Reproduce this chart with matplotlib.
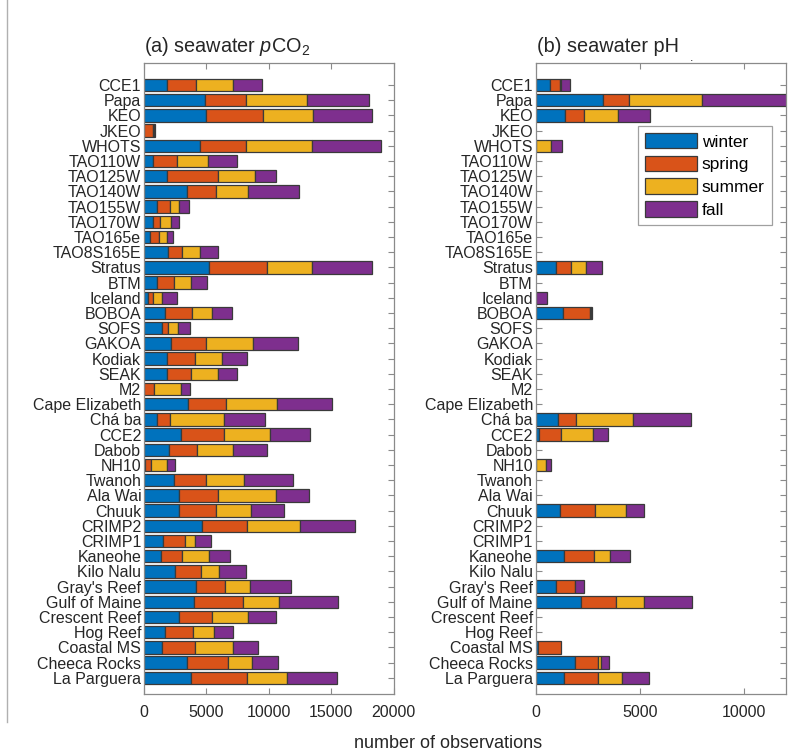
import matplotlib
matplotlib.use("Agg")
import matplotlib.pyplot as plt
import numpy as np

plt.rcParams['font.family'] = ['Liberation Sans', 'DejaVu Sans']
plt.rcParams['mathtext.fontset'] = 'custom'
plt.rcParams['mathtext.rm'] = 'Liberation Sans'
plt.rcParams['mathtext.it'] = 'Liberation Sans:italic'

stations = ["CCE1", "Papa", "KEO", "JKEO", "WHOTS", "TAO110W", "TAO125W", "TAO140W",
            "TAO155W", "TAO170W", "TAO165e", "TAO8S165E", "Stratus", "BTM", "Iceland",
            "BOBOA", "SOFS", "GAKOA", "Kodiak", "SEAK", "M2", "Cape Elizabeth", "Chá ba",
            "CCE2", "Dabob", "NH10", "Twanoh", "Ala Wai", "Chuuk", "CRIMP2", "CRIMP1",
            "Kaneohe", "Kilo Nalu", "Gray's Reef", "Gulf of Maine", "Crescent Reef",
            "Hog Reef", "Coastal MS", "Cheeca Rocks", "La Parguera"]

seasons = ["winter", "spring", "summer", "fall"]
colors = ["#0072BD", "#D95319", "#EDB120", "#7E2F8E"]

# pCO2 observations per season
pco2_winter = [1880, 4900, 4980, 30, 4490, 720, 1880, 3480, 1020, 700, 480, 1960, 5250, 1040, 320,
               1690, 1420, 2170, 1820, 1820, 0, 3530, 1040, 3000, 2040, 50, 2380, 2810, 2840, 4610,
               1530, 1400, 2460, 4170, 4010, 2810, 1690, 1420, 3430, 3800]
pco2_spring = [2270, 3290, 4520, 680, 3650, 1960, 4060, 2330, 1100, 620, 760, 1120, 4620, 1400, 400,
               2160, 540, 2840, 2250, 1980, 800, 3030, 1080, 3450, 2190, 540, 2630, 3160, 2920, 3660,
               1760, 1680, 2070, 2360, 3940, 2680, 2220, 2630, 3340, 4470]
pco2_summer = [2950, 4890, 4060, 120, 5340, 2460, 2920, 2540, 670, 820, 580, 1410, 3590, 1360, 760,
               1640, 770, 3710, 2220, 2140, 2200, 4120, 4300, 3640, 2870, 1290, 3020, 4580, 2800, 4250,
               760, 2110, 1470, 1980, 2890, 2810, 1710, 3050, 1850, 3210]
pco2_fall = [2350, 4980, 4740, 80, 5490, 2320, 1710, 4040, 850, 650, 540, 1480, 4790, 1290, 1200,
             1530, 990, 3590, 1980, 1480, 720, 4360, 3270, 3210, 2720, 640, 3880, 2670, 2680, 4390,
             1300, 1690, 2160, 3260, 4680, 2250, 1480, 2050, 2140, 3990]

# pH observations per season
ph_winter = [700, 3210, 1390, 0, 0, 0, 0, 0, 0, 0, 0, 0, 960, 0, 20,
             1330, 0, 0, 0, 0, 0, 0, 1090, 140, 0, 0, 0, 0, 1150, 0,
             0, 1370, 0, 980, 2160, 0, 0, 110, 1900, 1370]
ph_spring = [480, 1260, 910, 0, 0, 0, 0, 0, 0, 0, 0, 0, 750, 0, 0,
             1260, 0, 0, 0, 0, 0, 0, 830, 1070, 0, 0, 0, 0, 1710, 0,
             0, 1420, 0, 910, 1710, 0, 0, 1120, 1090, 1630]
ph_summer = [20, 3520, 1630, 0, 730, 0, 0, 0, 0, 0, 0, 0, 690, 0, 0,
             70, 0, 0, 0, 0, 0, 0, 2730, 1530, 0, 510, 0, 0, 1490, 0,
             0, 770, 0, 0, 1330, 0, 0, 0, 130, 1120]
ph_fall = [430, 5000, 1580, 0, 530, 0, 0, 0, 0, 0, 0, 0, 780, 0, 540,
           40, 0, 0, 0, 0, 0, 0, 2800, 720, 0, 240, 0, 0, 860, 0,
           0, 990, 0, 430, 2300, 0, 0, 0, 410, 1300]

fig = plt.figure(figsize=(7.91, 7.56), dpi=100)
W, H = 791, 756

def px_axes(x0, x1, y0, y1):
    return fig.add_axes([x0 / W, 1 - y1 / H, (x1 - x0) / W, (y1 - y0) / H])

axL = px_axes(144, 393.5, 62.7, 694.3)
axR = px_axes(535.7, 785.7, 62.7, 694.3)

spine_col = "#8a8a8a"
text_col = "#262626"

def draw(ax, series, xmax, xticks):
    y = np.arange(len(stations))
    left = np.zeros(len(stations))
    handles = []
    for vals, c, lab in zip(series, colors, seasons):
        vals = np.array(vals, dtype=float)
        lw = [0.9 if v > 0 else 0 for v in vals]
        h = ax.barh(y, vals, left=left, height=0.82, color=c, edgecolor="#3a3a3a",
                    linewidth=lw, label=lab, zorder=2)
        handles.append(h)
        left = left + vals
    ax.set_ylim(len(stations) - 1 + 1.09, -1.47)
    ax.set_xlim(0, xmax)
    ax.set_xticks(xticks)
    ax.set_yticks(y)
    ax.set_yticklabels(stations)
    ax.tick_params(axis='both', direction='in', length=4, width=0.8, color=spine_col,
                   labelcolor=text_col, labelsize=11.5, top=True, right=True)
    ax.tick_params(axis='y', pad=2)
    ax.tick_params(axis='x', pad=8)
    for s in ax.spines.values():
        s.set_color(spine_col)
        s.set_linewidth(0.9)
    return handles

draw(axL, [pco2_winter, pco2_spring, pco2_summer, pco2_fall], 20000,
     [0, 5000, 10000, 15000, 20000])
hs = draw(axR, [ph_winter, ph_spring, ph_summer, ph_fall], 12000, [0, 5000, 10000])

leg = axR.legend(hs, seasons, loc='upper right', bbox_to_anchor=(0.944, 0.900),
                 borderaxespad=0, fontsize=12.5, handlelength=3.0, handleheight=1.0,
                 handletextpad=0.3, labelspacing=0.35, borderpad=0.4, fancybox=False,
                 framealpha=1, edgecolor="#a0a0a0")
leg.get_frame().set_linewidth(0.9)

fig.text(144 / W, 1 - 52 / H, r"(a) seawater $p$CO$_2$", fontsize=14.3, color=text_col,
         ha='left', va='baseline')
fig.text(537 / W, 1 - 52 / H, "(b) seawater pH", fontsize=14.3, color=text_col,
         ha='left', va='baseline')
fig.text(448 / W, 1 - 743 / H, "number of observations", fontsize=13, color=text_col,
         ha='center', va='center')
fig.text(692 / W, 1 - 58 / H, ".", fontsize=9, color=text_col, ha='center', va='center')

fig.add_artist(plt.Line2D([7 / W, 7 / W], [1, 1 - 722 / H], color="#b0b0b0", linewidth=1))

fig.savefig("out.png", dpi=100)
